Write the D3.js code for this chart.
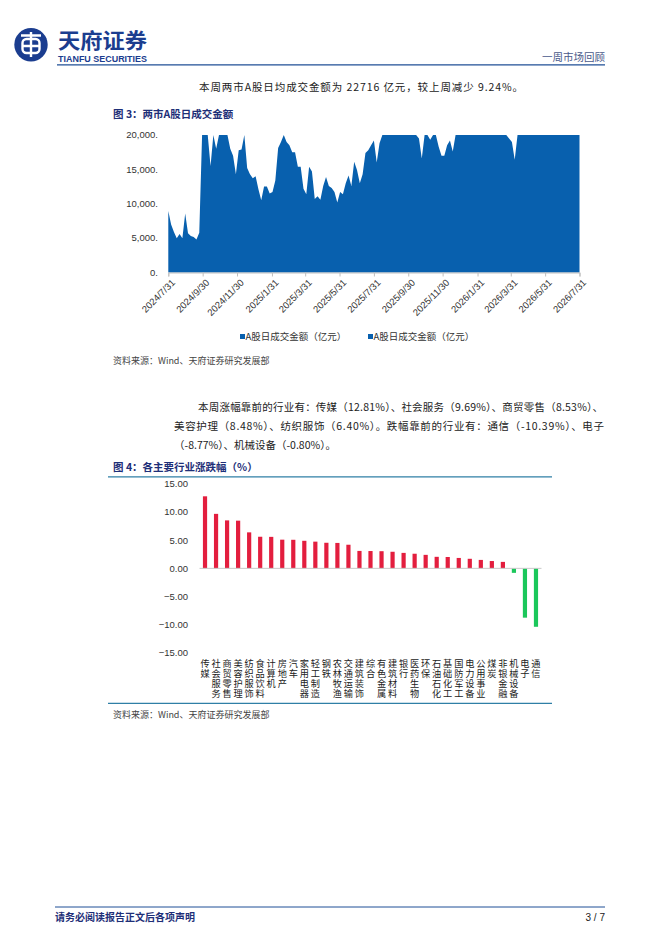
<!DOCTYPE html>
<html>
<head>
<meta charset="utf-8">
<script src="https://cdn.jsdelivr.net/npm/d3@7.9.0/dist/d3.min.js"></script>
<style>
  html, body { margin: 0; padding: 0; background: #fff; }
  svg { display: block; }
  .cjk { font-family: "Noto Sans CJK SC", "Noto Sans", sans-serif; }
  .num { font-family: "Liberation Sans", Arial, sans-serif; }
</style>
</head>
<body>
<div id="page"></div>
<script>
// ---- chart 1 data: A-share daily turnover (100m yuan), sampled every 5 days from 2024/7/31
const turnoverStart = "2024-07-31";
const turnoverStepDays = 5;
const turnoverValues = [
  8960, 7000, 5900, 5000, 5600, 5000, 8600, 5700, 5300, 5150,
  4800, 5800, 23000, 24500, 21000, 15500, 21000, 18000, 20500, 20200,
  21500, 20500, 18000, 17000, 14300, 17800, 17900, 20500, 15200, 14300,
  13700, 14000, 12100, 10500, 12500, 12500, 11500, 11700, 13400, 18100,
  19000, 20800, 19000, 18500, 17500, 17500, 15400, 15400, 12200, 11400,
  15400, 14700, 10700, 11100, 10600, 12600, 13900, 12600, 12300, 11700,
  10200, 11700, 11400, 13000, 14100, 12600, 16100, 14900, 13000, 14300,
  17400, 17800, 18500, 19200, 16000, 18800, 21000,
  22000, 23500, 21800, 24000, 25500, 23000, 22500, 21500, 24500, 26000, 23000, 21000,
  19500, 16600, 21000, 22000, 19300, 21500, 20800, 18300, 17000, 17000, 18500, 19200, 17600, 21000,
  22500, 24000, 25500, 27000, 26000, 24500, 23000, 25000, 28000, 30000, 27500, 26000,
  24000, 25500, 27000, 24500, 22000, 21000,
  19500, 19000, 16400, 21500,
  23000, 25000, 27000, 26500, 28000, 30500, 29000, 27500, 26000, 28500, 31000,
  30000, 28000, 27000, 29500, 32000, 30500, 28500, 27000, 29000, 31500, 30000
];
const turnoverTicks = ["2024/7/31", "2024/9/30", "2024/11/30", "2025/1/31", "2025/3/31", "2025/5/31",
  "2025/7/31", "2025/9/30", "2025/11/30", "2026/1/31", "2026/3/31", "2026/5/31", "2026/7/31"];
const turnoverYTicks = [0, 5000, 10000, 15000, 20000];
const legendNames = ["A股日成交金额（亿元）", "A股日成交金额（亿元）"];

// ---- chart 2 data: industry weekly change (%)
const industries = [
  "传媒", "社会服务", "商贸零售", "美容护理", "纺织服饰", "食品饮料", "计算机", "房地产",
  "汽车", "家用电器", "轻工制造", "钢铁", "农林牧渔", "交通运输", "建筑装饰", "综合",
  "有色金属", "建筑材料", "银行", "医药生物", "环保", "石油石化", "基础化工", "国防军工",
  "电力设备", "公用事业", "煤炭", "非银金融", "机械设备", "电子", "通信"
];
const industryChange = [
  12.81, 9.69, 8.53, 8.48, 6.40, 5.62, 5.60, 5.10,
  5.08, 4.90, 4.75, 4.55, 4.52, 4.20, 3.10, 3.08,
  3.05, 2.95, 2.75, 2.60, 2.40, 2.05, 2.02, 1.85,
  1.70, 1.50, 1.30, 1.15, -0.80, -8.77, -10.39
];
const changeYTicks = [-15, -10, -5, 0, 5, 10, 15];

const W = 662, H = 936;
const navy = "#1e2f78";
const svg = d3.select("#page").append("svg").attr("width", W).attr("height", H);
svg.append("rect").attr("width", W).attr("height", H).attr("fill", "#fff");

// ---- header
const logo = svg.append("g");
logo.append("circle").attr("cx", 31).attr("cy", 44.7).attr("r", 16.7).attr("fill", "#1b3d8f");
logo.append("path")
  .attr("d", "M21,35.5 H41 M31,32 V57 M22.5,46 H39.5")
  .attr("stroke", "#fff").attr("stroke-width", 2.4).attr("fill", "none");
logo.append("rect").attr("x", 22.5).attr("y", 39).attr("width", 17).attr("height", 14).attr("rx", 4)
  .attr("stroke", "#fff").attr("stroke-width", 2.4).attr("fill", "none");
svg.append("text").attr("class", "cjk").attr("x", 58).attr("y", 47.5)
  .attr("font-size", 21).attr("font-weight", 700).attr("fill", "#1b3d8f")
  .attr("textLength", 89).attr("lengthAdjust", "spacingAndGlyphs").text("天府证券");
svg.append("text").attr("class", "num").attr("x", 58).attr("y", 61.5)
  .attr("font-size", 8.4).attr("font-weight", 700).attr("fill", "#1b3d8f")
  .attr("textLength", 89).attr("lengthAdjust", "spacingAndGlyphs").text("TIANFU SECURITIES");
svg.append("line").attr("x1", 57).attr("x2", 605).attr("y1", 64.8).attr("y2", 64.8)
  .attr("stroke", "#1f4f96").attr("stroke-width", 1.3);
svg.append("text").attr("class", "cjk").attr("x", 605).attr("y", 61)
  .attr("text-anchor", "end").attr("font-size", 10.5).attr("fill", "#4a5a8a").text("一周市场回顾");

// ---- paragraph 1 + figure 3 title
svg.append("text").attr("class", "cjk").attr("x", 199).attr("y", 91)
  .attr("font-size", 10.5).attr("fill", "#222")
  .attr("textLength", 324)
  .text("本周两市A股日均成交金额为 22716 亿元，较上周减少 9.24%。");
svg.append("text").attr("class", "cjk").attr("x", 113).attr("y", 118)
  .attr("font-size", 10.5).attr("font-weight", 700).attr("fill", navy)
  .text("图 3：两市A股日成交金额");

// ---- chart 1
const parse = d3.timeParse("%Y/%-m/%-d");
const start = d3.timeParse("%Y-%m-%d")(turnoverStart);
const series = turnoverValues.map((v, i) => ({ date: d3.timeDay.offset(start, i * turnoverStepDays), v }));
const tickDates = turnoverTicks.map(parse);

const x1 = d3.scaleTime().domain([tickDates[0], tickDates[tickDates.length - 1]]).range([168.3, 579.5]);
const y1 = d3.scaleLinear().domain([0, 20000]).range([272.5, 135]).clamp(true);

const c1 = svg.append("g");
c1.append("path").datum(series)
  .attr("fill", "#0860ae")
  .attr("d", d3.area().x(d => x1(d.date)).y0(y1(0)).y1(d => y1(d.v)));

c1.append("g").attr("transform", "translate(0,272.5)")
  .call(d3.axisBottom(x1).tickValues(tickDates).tickSize(4).tickFormat(""))
  .call(g => g.selectAll("path,line").attr("stroke", "#bfbfbf"));

c1.append("g").selectAll("text").data(tickDates).join("text")
  .attr("class", "num")
  .attr("transform", d => `translate(${x1(d) + 5},281) rotate(-45)`)
  .attr("text-anchor", "end").attr("dy", "0.35em")
  .attr("font-size", 9.5).attr("fill", "#333")
  .text(d => d3.timeFormat("%Y/%-m/%-d")(d));

c1.append("g").selectAll("text").data(turnoverYTicks).join("text")
  .attr("class", "num").attr("x", 158).attr("y", d => y1(d)).attr("dy", "0.35em")
  .attr("text-anchor", "end").attr("font-size", 9.5).attr("fill", "#333")
  .text(d => d3.format(",")(d) + ".");

const leg = c1.append("g").selectAll("g").data(legendNames).join("g")
  .attr("transform", (d, i) => `translate(${[240, 368][i]},336.5)`);
leg.append("rect").attr("x", 0).attr("y", -2.5).attr("width", 5).attr("height", 5).attr("fill", "#0860ae");
leg.append("text").attr("class", "cjk").attr("x", 5.5).attr("dy", "0.35em")
  .attr("font-size", 9.5).attr("fill", "#333").text(d => d);

svg.append("text").attr("class", "cjk").attr("x", 113).attr("y", 363.5)
  .attr("font-size", 9).attr("fill", "#444").text("资料来源：Wind、天府证券研究发展部");

// ---- paragraph 2 (justified lines)
const para2 = [
  [198, 411, 405, "本周涨幅靠前的行业有：传媒（12.81%）、社会服务（9.69%）、商贸零售（8.53%）、"],
  [174, 430, 430, "美容护理（8.48%）、纺织服饰（6.40%）。跌幅靠前的行业有：通信（-10.39%）、电子"],
  [174, 449, 0, "（-8.77%）、机械设备（-0.80%）。"]
];
svg.append("g").selectAll("text").data(para2).join("text")
  .attr("class", "cjk").attr("x", d => d[0]).attr("y", d => d[1])
  .attr("textLength", d => d[2] || null)
  .attr("font-size", 10.5).attr("fill", "#222").text(d => d[3]);

svg.append("text").attr("class", "cjk").attr("x", 113).attr("y", 471)
  .attr("font-size", 10.5).attr("font-weight", 700).attr("fill", navy)
  .text("图 4：各主要行业涨跌幅（%）");
svg.append("line").attr("x1", 108).attr("x2", 552).attr("y1", 476.8).attr("y2", 476.8)
  .attr("stroke", "#2f7fa6").attr("stroke-width", 1.2);
svg.append("line").attr("x1", 108).attr("x2", 552).attr("y1", 703.3).attr("y2", 703.3)
  .attr("stroke", "#2f7fa6").attr("stroke-width", 1.2);

// ---- chart 2
const x2 = d3.scaleBand().domain(industries).range([199.5, 541.5]).paddingInner(0.62).paddingOuter(0.31);
const y2 = d3.scaleLinear().domain([-15, 15]).range([652.7, 484]);
const c2 = svg.append("g");

c2.append("g").selectAll("text").data(changeYTicks).join("text")
  .attr("class", "num").attr("x", 188).attr("y", d => y2(d)).attr("dy", "0.35em")
  .attr("text-anchor", "end").attr("font-size", 9.5).attr("fill", "#333")
  .text(d => d3.format(".2f")(d));

c2.append("g").selectAll("rect").data(industries).join("rect")
  .attr("x", d => x2(d))
  .attr("width", x2.bandwidth())
  .attr("y", (d, i) => y2(Math.max(0, industryChange[i])))
  .attr("height", (d, i) => Math.abs(y2(industryChange[i]) - y2(0)))
  .attr("fill", (d, i) => industryChange[i] >= 0 ? "#e31e3e" : "#1bc75b");

c2.append("line").attr("x1", 199.5).attr("x2", 541.5).attr("y1", y2(0)).attr("y2", y2(0))
  .attr("stroke", "#c8c8c8").attr("stroke-width", 1);

// category names written top-to-bottom, one text per category
c2.append("g").selectAll("text").data(industries).join("text")
  .attr("class", "cjk")
  .attr("writing-mode", "vertical-rl")
  .attr("x", d => x2(d) + x2.bandwidth() / 2)
  .attr("y", 659)
  .attr("font-size", 9.2).attr("letter-spacing", 0.8)
  .attr("fill", "#222")
  .text(d => d);

svg.append("text").attr("class", "cjk").attr("x", 113).attr("y", 717.5)
  .attr("font-size", 9).attr("fill", "#444").text("资料来源：Wind、天府证券研究发展部");

// ---- footer
svg.append("line").attr("x1", 55).attr("x2", 605).attr("y1", 907).attr("y2", 907)
  .attr("stroke", "#1f4f96").attr("stroke-width", 1);
svg.append("text").attr("class", "cjk").attr("x", 55).attr("y", 921)
  .attr("font-size", 10).attr("font-weight", 700).attr("fill", navy).text("请务必阅读报告正文后各项声明");
svg.append("text").attr("class", "num").attr("x", 605).attr("y", 921).attr("text-anchor", "end")
  .attr("font-size", 10).attr("fill", "#222").text("3 / 7");
</script>
</body>
</html>
